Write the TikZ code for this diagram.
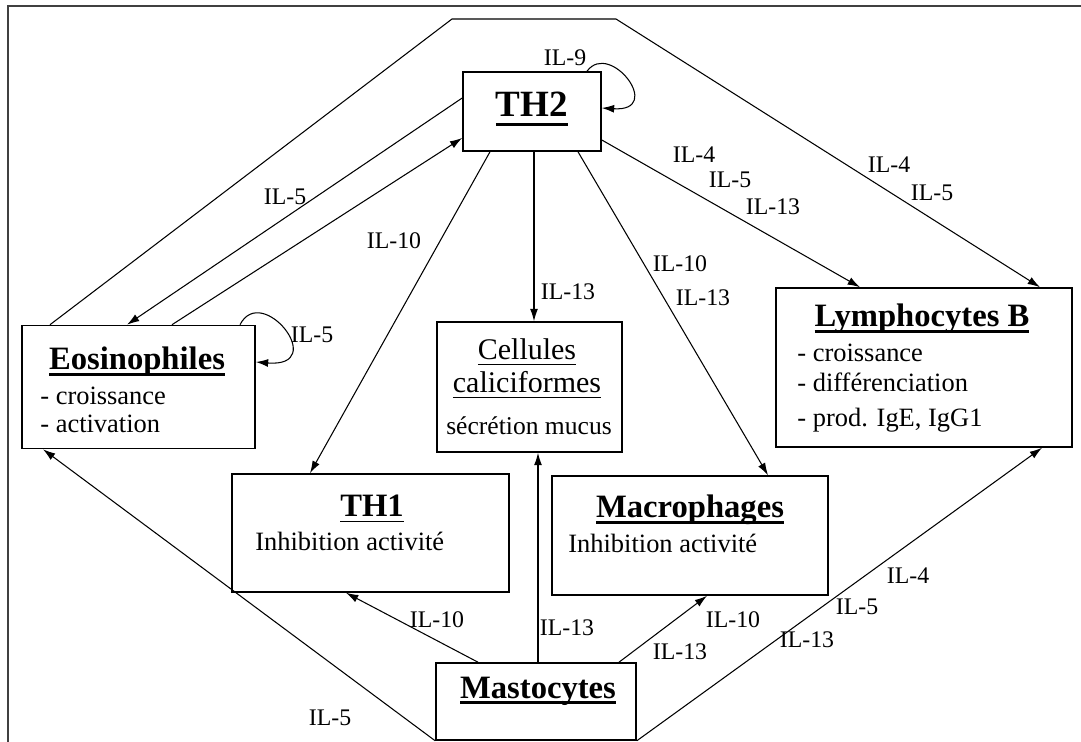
\documentclass[tikz,border=0pt]{standalone}
\usepackage{fontspec}
\setmainfont{Liberation Serif}
\usetikzlibrary{arrows.meta}

% soulignements
\newsavebox\hdbox
\newcommand{\ulgras}[2][-3.5pt]{\sbox\hdbox{#2}\rlap{\rule[#1]{\wd\hdbox}{1.6pt}}\usebox\hdbox}
\newcommand{\ulfin}[1]{\sbox\hdbox{#1}\rlap{\rule[-3pt]{\wd\hdbox}{0.8pt}}\usebox\hdbox}

\begin{document}
\begin{tikzpicture}[x=0.567pt,y=-0.567pt,
    box/.style 2 args={draw,line width=0.9pt,inner sep=0pt,minimum width=#1*0.567pt,minimum height=#2*0.567pt},
    head/.style={font=\fontsize{18.5}{22}\selectfont\bfseries,anchor=base,inner sep=0pt},
    txt/.style={font=\fontsize{15}{18}\selectfont,anchor=base west,inner sep=0pt},
    lab/.style={font=\fontsize{13.5}{16}\selectfont,inner sep=0pt},
    fl/.style={-{Latex[length=7pt,width=4.5pt]},line width=0.6pt}]
        \useasboundingbox (0,0) rectangle (1081,742);
        % Cadre
        \draw[line width=1pt,black!75] (8,742) -- (8,6) -- (1081,6);

        % Boites
        \node[box={138}{79}] (th2) at (532,111.5) {};
        \node[box={233}{123}] (eos) at (138.5,387) {};
        \node[box={185}{130}] (cell) at (529.5,387) {};
        \node[box={296}{159}] (lymph) at (924,367.5) {};
        \node[box={277}{118}] (th1) at (370.5,533) {};
        \node[box={276}{119}] (macro) at (690,535.5) {};
        \node[box={200}{77}] (mast) at (536,701.5) {};

        % Textes des boites
        \node[head,font=\fontsize{21}{24}\selectfont\bfseries] (th2t) at (532,117) {\ulgras[-5pt]{TH2}};
        \node[head] (eost) at (137,370) {\ulgras{Eosinophiles}};
        \node[txt] (eos1) at (40,405) {- croissance};
        \node[txt] (eos2) at (40,433) {- activation};
        \node[head,font=\fontsize{17}{20}\selectfont] (cellt1) at (527,360) {\ulfin{Cellules}};
        \node[head,font=\fontsize{17}{20}\selectfont] (cellt2) at (527,393) {\ulfin{caliciformes}};
        \node[head,font=\fontsize{14.5}{17}\selectfont] (cell1) at (529,435) {sécrétion mucus};
        \node[head] (lymt) at (922,327) {\ulgras{Lymphocytes B}};
        \node[txt] (lym1) at (797,362) {- croissance};
        \node[txt] (lym2) at (797,392) {- différenciation};
        \node[txt] (lym3) at (797,427) {- prod. IgE, IgG1};
        \node[head] (th1t) at (372,517) {\ulfin{TH1}};
        \node[txt] (th11) at (255,550) {Inhibition activité};
        \node[head] (macrot) at (690,518) {\ulgras{Macrophages}};
        \node[txt] (macro1) at (568,553) {Inhibition activité};
        \node[head] (mastt) at (538,698) {\ulgras{Mastocytes}};

        % Grand contour
        \coordinate (hg) at (452,19);
        \coordinate (hd) at (616,19);
        \draw[fl] (eos.north -| 50,0) -- (hg) -- (hd) -- (lymph.north -| 1040,0);

        % Fleches depuis TH2
        \draw[fl] (th2.west |- 0,98) -- (eos.north -| 127,0);
        \draw[fl] (eos.north -| 172,0) -- (th2.west |- 0,138);
        \draw[fl] (eos.north -| 240,0) .. controls (262,282) and (330,368) .. (eos.east |- 0,362);
        \draw[fl] (th2.north -| 587,0) .. controls (610,40) and (665,112) .. (th2.east |- 0,108);
        \draw[fl] (th2.south -| 490,0) -- (th1.north -| 310,0);
        \draw[fl] (th2.south -| 534,0) -- (cell.north -| 534,0);
        \draw[fl] (th2.south -| 578,0) -- (macro.north -| 768,0);
        \draw[fl] (th2.east |- 0,140) -- (lymph.north -| 860,0);

        % Fleches depuis Mastocytes
        \draw[fl] (mast.south west) -- (eos.south -| 43,0);
        \draw[fl] (mast.north -| 478,0) -- (th1.south -| 346,0);
        \draw[fl] (mast.north -| 538,0) -- (cell.south -| 538,0);
        \draw[fl] (mast.north -| 619,0) -- (macro.south -| 707,0);
        \draw[fl] (mast.south east) -- (lymph.south -| 1042,0);

        % Etiquettes
        \node[lab] (l9) at (565,58) {IL-9};
        \node[lab] (l5a) at (285,197) {IL-5};
        \node[lab] (l5b) at (312,335) {IL-5};
        \node[lab] (l10a) at (394,241) {IL-10};
        \node[lab] (l13a) at (568,292) {IL-13};
        \node[lab] (l10b) at (680,264) {IL-10};
        \node[lab] (l13b) at (703,298) {IL-13};
        \node[lab] (l4a) at (694,155) {IL-4};
        \node[lab] (l5c) at (730,180) {IL-5};
        \node[lab] (l13c) at (773,207) {IL-13};
        \node[lab] (l4b) at (889,165) {IL-4};
        \node[lab] (l5d) at (932,193) {IL-5};
        \node[lab] (l10c) at (437,620) {IL-10};
        \node[lab] (l13d) at (567,628) {IL-13};
        \node[lab] (l10d) at (733,620) {IL-10};
        \node[lab] (l13e) at (680,652) {IL-13};
        \node[lab] (l4c) at (908,576) {IL-4};
        \node[lab] (l5e) at (857,607) {IL-5};
        \node[lab] (l13f) at (807,640) {IL-13};
        \node[lab] (l5f) at (330,718) {IL-5};
\end{tikzpicture}
\end{document}
